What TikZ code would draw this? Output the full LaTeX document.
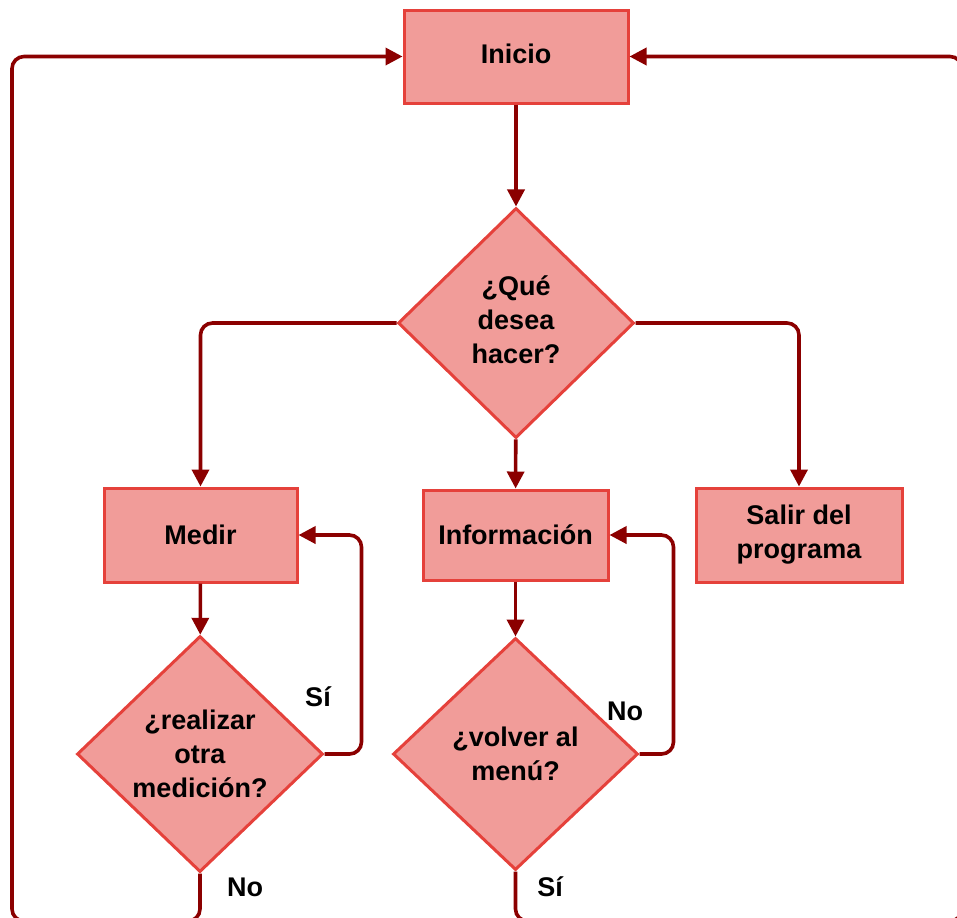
\documentclass[tikz,border=0pt]{standalone}
\usepackage{fontspec}
\setmainfont{Liberation Sans}
\usetikzlibrary{shapes.geometric,arrows.meta}
\definecolor{boxfill}{HTML}{F19C99}
\definecolor{boxline}{HTML}{E5413B}
\definecolor{arrowc}{HTML}{8B0000}
\begin{document}
\begin{tikzpicture}[x=0.5pt,y=-0.5pt,
 box/.style={draw=boxline, fill=boxfill, line width=1.5pt, font=\fontsize{13.5}{17}\selectfont\bfseries, align=center, inner sep=0pt},
 proc/.style={box, rectangle},
 dec/.style={box, diamond},
 conn/.style={draw=arrowc, line width=1.8pt, rounded corners=6pt, -{Triangle[length=8.5pt,width=8.5pt]}},
 lbl/.style={font=\fontsize{13.5}{17}\selectfont\bfseries, inner sep=0pt}]
\clip (0,0) rectangle (957,917);
\useasboundingbox (0,0) rectangle (957,917);
\node[proc, minimum width=112pt, minimum height=46.5pt] (ini) at (516,56.5) {\raisebox{3pt}{Inicio}};
\node[dec, minimum width=118pt, minimum height=115pt] (q) at (516,323) {\raisebox{2.5pt}{\begin{tabular}{@{}c@{}}¿Qué\\desea\\hacer?\end{tabular}}};
\node[proc, minimum width=96.5pt, minimum height=47pt] (med) at (200.5,535) {Medir};
\node[proc, minimum width=92.5pt, minimum height=45pt] (inf) at (515.5,535) {Información};
\node[proc, minimum width=103pt, minimum height=47pt] (sal) at (799,535) {Salir del\\programa};
\node[dec, minimum width=123pt, minimum height=118pt] (rea) at (200,754) {¿realizar\\otra\\medición?};
\node[dec, minimum width=122.5pt, minimum height=116pt] (vol) at (515.5,754) {¿volver al\\menú?};
\coordinate (lb) at (12,921);
\coordinate (rb) at (962,921);
\draw[conn] (ini) -- (q);
\draw[conn] (q.west) -| (med.north);
\draw[conn] (q.east) -| (sal.north);
\draw[conn] (q) -- (inf);
\draw[conn] (med) -- (rea);
\draw[conn] (inf) -- (vol);
\draw[conn] (rea.east) -- ++(37,0) |- (med.east);
\draw[conn] (vol.east) -- ++(34,0) |- (inf.east);
\draw[conn] (rea.south) |- (lb) |- (ini.west);
\draw[conn] (vol.south) |- (rb) |- (ini.east);
\node[lbl] (si1) at (318,697) {Sí};
\node[lbl] (no1) at (625,711) {No};
\node[lbl] (no2) at (245,887) {No};
\node[lbl] (si2) at (550,887) {Sí};
\end{tikzpicture}
\end{document}
